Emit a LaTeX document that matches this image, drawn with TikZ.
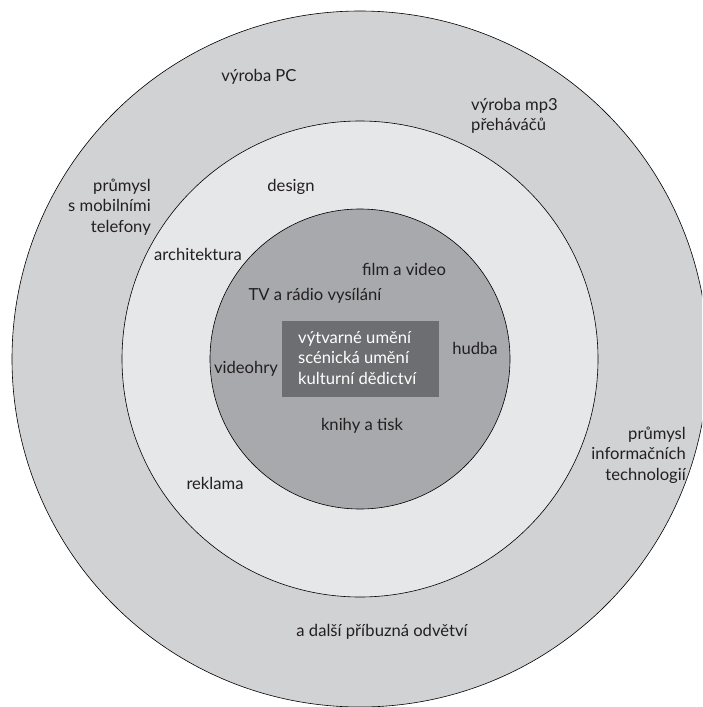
\documentclass[tikz,border=0pt]{standalone}
\usepackage{fontspec}
\setmainfont{Lato}
\definecolor{outergray}{HTML}{D1D2D4}
\definecolor{middlegray}{HTML}{E6E7E8}
\definecolor{innergray}{HTML}{A7A9AC}
\definecolor{boxgray}{HTML}{6D6E71}
\definecolor{textgray}{HTML}{231F20}
\tikzset{
  ring/.style={draw=black,line width=0.6pt},
  lbl/.style={text=textgray,inner sep=0pt,font=\fontsize{16.6}{20.6}\selectfont},
}
\begin{document}
\begin{tikzpicture}[x=1pt,y=-1pt]
  \useasboundingbox (0,0) rectangle (702,707);
  \begin{scope}
    \clip (0,0) rectangle (702,707);
    \draw[ring,fill=outergray] (360,359) circle[radius=348pt];
    \draw[ring,fill=middlegray] (360,359) circle[radius=238pt];
    \draw[ring,fill=innergray] (360,359) circle[radius=150pt];
  \end{scope}
  \node[fill=boxgray,minimum width=157pt,minimum height=76pt,inner sep=0pt] (core) at (360.5,359) {};
  \node[lbl,text=white,align=left,anchor=west] (corelbl) at (298,358) {výtvarné umění\\scénická umění\\kulturní dědictví};
  % outer ring
  \node[lbl] (pc) at (259,77) {výroba PC};
  \node[lbl,align=left,anchor=west] (mp3) at (471,116) {výroba mp3\\přeháváčů};
  \node[lbl,align=right,anchor=east] (mobil) at (151,207) {průmysl\\s mobilními\\telefony};
  \node[lbl,align=right,anchor=east] (it) at (686,455) {průmysl\\informačních\\technologií};
  \node[lbl] (dalsi) at (382,632) {a další příbuzná odvětví};
  % middle ring
  \node[lbl] (design) at (291,187) {design};
  \node[lbl] (arch) at (198,254) {architektura};
  \node[lbl] (reklama) at (215,483) {reklama};
  % inner circle
  \node[lbl] (film) at (404,269) {film a video};
  \node[lbl] (tv) at (315,296) {TV a rádio vysílání};
  \node[lbl] (hudba) at (475,348) {hudba};
  \node[lbl] (hry) at (246,369) {videohry};
  \node[lbl] (knihy) at (362,426) {knihy a tisk};
\end{tikzpicture}
\end{document}
